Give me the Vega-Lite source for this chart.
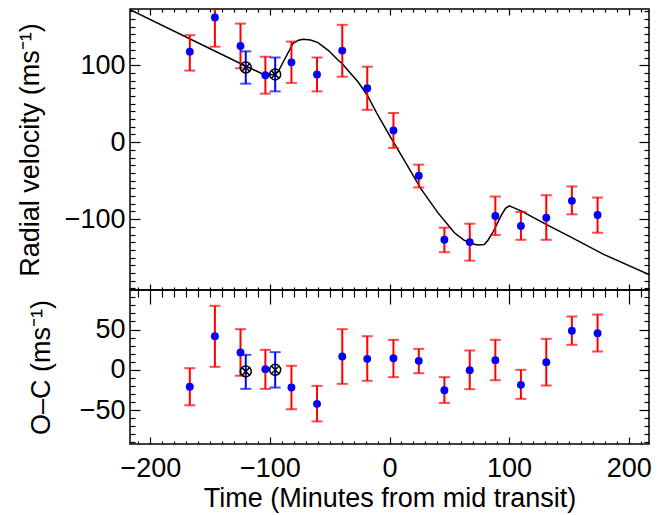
{
  "$schema": "https://vega.github.io/schema/vega-lite/v6.json",
  "background": "white",
  "padding": {"left": 15, "top": 7, "right": 16, "bottom": 5},
  "spacing": 0,
  "bounds": "flush",
  "config": {
    "font": "Liberation Sans",
    "view": {"stroke": "black", "strokeWidth": 1.5},
    "axis": {
      "grid": false, "domain": false, "tickColor": "black", "tickWidth": 1.2, "minExtent": 0,
      "labelFont": "Liberation Sans", "labelFontSize": 27, "labelColor": "black",
      "titleFont": "Liberation Sans", "titleFontSize": 27, "titleFontWeight": "normal", "titleColor": "black",
      "labelOverlap": false, "labelFlush": false, "labelBound": false
    }
  },
  "datasets": {
    "obs": [
      {"t": -167, "rv": 117.6, "rvlo": 93, "rvhi": 139, "oc": -21, "oclo": -44, "ochi": 2, "kind": "fit"},
      {"t": -146, "rv": 162, "rvlo": 124, "rvhi": 200, "oc": 41.7, "oclo": 3.7, "ochi": 79.4, "kind": "fit"},
      {"t": -124.6, "rv": 125, "rvlo": 96, "rvhi": 154, "oc": 21.5, "oclo": -7.4, "ochi": 50.4, "kind": "fit"},
      {"t": -120.2, "rv": 97, "rvlo": 76, "rvhi": 118, "oc": -2, "oclo": -23.6, "ochi": 18.6, "kind": "excl"},
      {"t": -103.8, "rv": 87, "rvlo": 63, "rvhi": 111, "oc": 0.8, "oclo": -23.6, "ochi": 24.8, "kind": "fit"},
      {"t": -95.6, "rv": 88, "rvlo": 66, "rvhi": 110, "oc": 0, "oclo": -22, "ochi": 21.9, "kind": "excl"},
      {"t": -82, "rv": 103.7, "rvlo": 77, "rvhi": 130.7, "oc": -22, "oclo": -48.9, "ochi": 5, "kind": "fit"},
      {"t": -60.6, "rv": 88, "rvlo": 66, "rvhi": 110, "oc": -42.2, "oclo": -64, "ochi": -19.9, "kind": "fit"},
      {"t": -39.5, "rv": 119, "rvlo": 85, "rvhi": 152.5, "oc": 16.5, "oclo": -17.4, "ochi": 50.4, "kind": "fit"},
      {"t": -18.6, "rv": 70.2, "rvlo": 42, "rvhi": 98, "oc": 13.6, "oclo": -13.6, "ochi": 41.7, "kind": "fit"},
      {"t": 3.3, "rv": 15.3, "rvlo": -7.4, "rvhi": 37.9, "oc": 14.4, "oclo": -9.1, "ochi": 37.2, "kind": "fit"},
      {"t": 24.5, "rv": -43.6, "rvlo": -58.8, "rvhi": -29.2, "oc": 11.1, "oclo": -4.2, "ochi": 26, "kind": "fit"},
      {"t": 45.9, "rv": -126.8, "rvlo": -142.9, "rvhi": -111, "oc": -25.3, "oclo": -41, "ochi": -9.1, "kind": "fit"},
      {"t": 67.1, "rv": -129.8, "rvlo": -153.9, "rvhi": -105.9, "oc": -0.4, "oclo": -24, "ochi": 24, "kind": "fit"},
      {"t": 88.5, "rv": -95.8, "rvlo": -120.7, "rvhi": -70.6, "oc": 12, "oclo": -12.9, "ochi": 37.2, "kind": "fit"},
      {"t": 109.9, "rv": -108.9, "rvlo": -126.8, "rvhi": -90.6, "oc": -18.6, "oclo": -36, "ochi": 0, "kind": "fit"},
      {"t": 131.1, "rv": -98, "rvlo": -126.8, "rvhi": -68.9, "oc": 9.5, "oclo": -19.5, "ochi": 38.4, "kind": "fit"},
      {"t": 152.5, "rv": -76.2, "rvlo": -93.7, "rvhi": -57.5, "oc": 48.4, "oclo": 31, "ochi": 66.1, "kind": "fit"},
      {"t": 174, "rv": -94.5, "rvlo": -117.6, "rvhi": -71.9, "oc": 45.4, "oclo": 22.7, "ochi": 68.6, "kind": "fit"}
    ],
    "model": [
      {"t": -217, "v": 172},
      {"t": -120.4, "v": 99},
      {"t": -107, "v": 89.3},
      {"t": -98, "v": 87.5},
      {"t": -93.2, "v": 91.5},
      {"t": -80.6, "v": 128.5},
      {"t": -76, "v": 132.5},
      {"t": -72.3, "v": 133.7},
      {"t": -66, "v": 132.8},
      {"t": -59.8, "v": 129.4},
      {"t": -51, "v": 119},
      {"t": -43.1, "v": 106.8},
      {"t": -39.5, "v": 102},
      {"t": -26.4, "v": 78.4},
      {"t": -18.6, "v": 61},
      {"t": -9.7, "v": 35},
      {"t": 0, "v": 9},
      {"t": 12.5, "v": -24},
      {"t": 26.5, "v": -61},
      {"t": 40.4, "v": -91.5},
      {"t": 54.3, "v": -117.6},
      {"t": 62, "v": -127},
      {"t": 68.2, "v": -131.6},
      {"t": 74, "v": -133.5},
      {"t": 79.3, "v": -133},
      {"t": 82.5, "v": -127},
      {"t": 86.3, "v": -117.6},
      {"t": 93.2, "v": -95.8},
      {"t": 97, "v": -86},
      {"t": 100.2, "v": -82.7},
      {"t": 110, "v": -89.3},
      {"t": 131, "v": -106.8},
      {"t": 151.7, "v": -123.3},
      {"t": 179.5, "v": -146},
      {"t": 217, "v": -172}
    ]
  },
  "vconcat": [
    {
      "width": 519,
      "height": 281,
      "resolve": {"axis": {"x": "independent", "y": "independent"}},
      "layer": [
        {
          "data": {"name": "model"},
          "mark": {"type": "line", "color": "black", "strokeWidth": 1.5, "clip": true},
          "encoding": {
            "x": {"field": "t", "type": "quantitative", "scale": {"domain": [-217, 217], "nice": false, "zero": false},
              "axis": {"orient": "bottom", "labels": false, "title": null, "maxExtent": 0,
                "values": [-210,-200,-190,-180,-170,-160,-150,-140,-130,-120,-110,-100,-90,-80,-70,-60,-50,-40,-30,-20,-10,0,10,20,30,40,50,60,70,80,90,100,110,120,130,140,150,160,170,180,190,200,210],
                "tickSize": {"condition": {"test": "datum.value % 100 === 0", "value": -6}, "value": -3}}},
            "y": {"field": "v", "type": "quantitative", "scale": {"domain": [-192, 173], "nice": false, "zero": false},
              "axis": {"orient": "left", "title": "Radial velocity (ms⁻¹)", "titlePadding": 20, "labelPadding": 15,
                "values": [-190,-180,-170,-160,-150,-140,-130,-120,-110,-100,-90,-80,-70,-60,-50,-40,-30,-20,-10,0,10,20,30,40,50,60,70,80,90,100,110,120,130,140,150,160,170],
                "labelExpr": "datum.value % 100 === 0 ? datum.label : ''",
                "labelFontSize": {"condition": {"test": "datum.value % 100 !== 0", "value": 0}, "value": 27},
                "tickSize": {"condition": {"test": "datum.value % 100 === 0", "value": -10}, "value": -5}}}
          }
        },
        {
          "data": {"name": "obs"},
          "mark": {"type": "rule", "strokeWidth": 2, "clip": true},
          "encoding": {
            "x": {"field": "t", "type": "quantitative", "scale": {"domain": [-217, 217], "nice": false, "zero": false},
              "axis": {"orient": "top", "labels": false, "title": null, "maxExtent": 0,
                "values": [-210,-200,-190,-180,-170,-160,-150,-140,-130,-120,-110,-100,-90,-80,-70,-60,-50,-40,-30,-20,-10,0,10,20,30,40,50,60,70,80,90,100,110,120,130,140,150,160,170,180,190,200,210],
                "tickSize": {"condition": {"test": "datum.value % 100 === 0", "value": -6}, "value": -3}}},
            "y": {"field": "rvlo", "type": "quantitative", "scale": {"domain": [-192, 173], "nice": false, "zero": false},
              "axis": {"orient": "right", "labels": false, "title": null, "maxExtent": 0,
                "values": [-190,-180,-170,-160,-150,-140,-130,-120,-110,-100,-90,-80,-70,-60,-50,-40,-30,-20,-10,0,10,20,30,40,50,60,70,80,90,100,110,120,130,140,150,160,170],
                "tickSize": {"condition": {"test": "datum.value % 100 === 0", "value": -10}, "value": -5}}},
            "y2": {"field": "rvhi"},
            "color": {"field": "kind", "type": "nominal", "scale": {"domain": ["fit", "excl"], "range": ["#ff0000", "#0000ff"]}, "legend": null}
          }
        },
        {
          "data": {"name": "obs"},
          "mark": {"type": "tick", "orient": "horizontal", "size": 11, "thickness": 2, "clip": true},
          "encoding": {
            "x": {"field": "t", "type": "quantitative", "scale": {"domain": [-217, 217], "nice": false, "zero": false}, "axis": null},
            "y": {"field": "rvlo", "type": "quantitative", "scale": {"domain": [-192, 173], "nice": false, "zero": false}, "axis": null},
            "color": {"field": "kind", "type": "nominal", "scale": {"domain": ["fit", "excl"], "range": ["#ff0000", "#0000ff"]}, "legend": null}
          }
        },
        {
          "data": {"name": "obs"},
          "mark": {"type": "tick", "orient": "horizontal", "size": 11, "thickness": 2, "clip": true},
          "encoding": {
            "x": {"field": "t", "type": "quantitative", "scale": {"domain": [-217, 217], "nice": false, "zero": false}, "axis": null},
            "y": {"field": "rvhi", "type": "quantitative", "scale": {"domain": [-192, 173], "nice": false, "zero": false}, "axis": null},
            "color": {"field": "kind", "type": "nominal", "scale": {"domain": ["fit", "excl"], "range": ["#ff0000", "#0000ff"]}, "legend": null}
          }
        },
        {
          "data": {"name": "obs"},
          "transform": [{"filter": {"field": "kind", "equal": "fit"}}],
          "mark": {"type": "circle", "size": 62, "color": "#0000ff", "opacity": 1, "clip": true},
          "encoding": {
            "x": {"field": "t", "type": "quantitative", "scale": {"domain": [-217, 217], "nice": false, "zero": false}, "axis": null},
            "y": {"field": "rv", "type": "quantitative", "scale": {"domain": [-192, 173], "nice": false, "zero": false}, "axis": null}
          }
        },
        {
          "data": {"name": "obs"},
          "transform": [{"filter": {"field": "kind", "equal": "excl"}}],
          "mark": {"type": "point", "shape": "circle", "size": 120, "filled": false, "color": "black", "strokeWidth": 1.5, "opacity": 1},
          "encoding": {
            "x": {"field": "t", "type": "quantitative", "scale": {"domain": [-217, 217], "nice": false, "zero": false}, "axis": null},
            "y": {"field": "rv", "type": "quantitative", "scale": {"domain": [-192, 173], "nice": false, "zero": false}, "axis": null}
          }
        },
        {
          "data": {"name": "obs"},
          "transform": [{"filter": {"field": "kind", "equal": "excl"}}],
          "mark": {"type": "point", "shape": "M-0.7,-0.7L0.7,0.7M-0.7,0.7L0.7,-0.7", "size": 120, "filled": false, "color": "black", "strokeWidth": 1.5, "opacity": 1},
          "encoding": {
            "x": {"field": "t", "type": "quantitative", "scale": {"domain": [-217, 217], "nice": false, "zero": false}, "axis": null},
            "y": {"field": "rv", "type": "quantitative", "scale": {"domain": [-192, 173], "nice": false, "zero": false}, "axis": null}
          }
        }
      ]
    },
    {
      "width": 519,
      "height": 154,
      "resolve": {"axis": {"x": "independent", "y": "independent"}},
      "layer": [
        {
          "mark": {"type": "rule", "color": "#ff0000", "strokeWidth": 1.5},
          "encoding": {
            "y": {"datum": 0, "type": "quantitative", "scale": {"domain": [-92, 99], "nice": false, "zero": false}, "axis": null}
          }
        },
        {
          "data": {"name": "obs"},
          "mark": {"type": "rule", "strokeWidth": 2, "clip": true},
          "encoding": {
            "x": {"field": "t", "type": "quantitative", "scale": {"domain": [-217, 217], "nice": false, "zero": false},
              "axis": {"orient": "bottom", "title": "Time (Minutes from mid transit)", "titlePadding": 4, "labelPadding": 18,
                "values": [-210,-200,-190,-180,-170,-160,-150,-140,-130,-120,-110,-100,-90,-80,-70,-60,-50,-40,-30,-20,-10,0,10,20,30,40,50,60,70,80,90,100,110,120,130,140,150,160,170,180,190,200,210],
                "labelExpr": "datum.value % 100 === 0 ? datum.label : ''",
                "labelFontSize": {"condition": {"test": "datum.value % 100 !== 0", "value": 0}, "value": 27},
                "tickSize": {"condition": {"test": "datum.value % 100 === 0", "value": -7}, "value": -3}}},
            "y": {"field": "oclo", "type": "quantitative", "scale": {"domain": [-92, 99], "nice": false, "zero": false},
              "axis": {"orient": "left", "title": "O–C (ms⁻¹)", "titlePadding": 24, "labelPadding": 15,
                "values": [-90,-80,-70,-60,-50,-40,-30,-20,-10,0,10,20,30,40,50,60,70,80,90],
                "labelExpr": "datum.value % 50 === 0 ? datum.label : ''",
                "labelFontSize": {"condition": {"test": "datum.value % 50 !== 0", "value": 0}, "value": 27},
                "tickSize": {"condition": {"test": "datum.value % 50 === 0", "value": -10}, "value": -5}}},
            "y2": {"field": "ochi"},
            "color": {"field": "kind", "type": "nominal", "scale": {"domain": ["fit", "excl"], "range": ["#ff0000", "#0000ff"]}, "legend": null}
          }
        },
        {
          "data": {"name": "obs"},
          "mark": {"type": "tick", "orient": "horizontal", "size": 11, "thickness": 2, "clip": true},
          "encoding": {
            "x": {"field": "t", "type": "quantitative", "scale": {"domain": [-217, 217], "nice": false, "zero": false},
              "axis": {"orient": "top", "labels": false, "title": null, "maxExtent": 0,
                "values": [-210,-200,-190,-180,-170,-160,-150,-140,-130,-120,-110,-100,-90,-80,-70,-60,-50,-40,-30,-20,-10,0,10,20,30,40,50,60,70,80,90,100,110,120,130,140,150,160,170,180,190,200,210],
                "tickSize": {"condition": {"test": "datum.value % 100 === 0", "value": -14}, "value": -7}}},
            "y": {"field": "oclo", "type": "quantitative", "scale": {"domain": [-92, 99], "nice": false, "zero": false},
              "axis": {"orient": "right", "labels": false, "title": null, "maxExtent": 0,
                "values": [-90,-80,-70,-60,-50,-40,-30,-20,-10,0,10,20,30,40,50,60,70,80,90],
                "tickSize": {"condition": {"test": "datum.value % 50 === 0", "value": -10}, "value": -5}}},
            "color": {"field": "kind", "type": "nominal", "scale": {"domain": ["fit", "excl"], "range": ["#ff0000", "#0000ff"]}, "legend": null}
          }
        },
        {
          "data": {"name": "obs"},
          "mark": {"type": "tick", "orient": "horizontal", "size": 11, "thickness": 2, "clip": true},
          "encoding": {
            "x": {"field": "t", "type": "quantitative", "scale": {"domain": [-217, 217], "nice": false, "zero": false}, "axis": null},
            "y": {"field": "ochi", "type": "quantitative", "scale": {"domain": [-92, 99], "nice": false, "zero": false}, "axis": null},
            "color": {"field": "kind", "type": "nominal", "scale": {"domain": ["fit", "excl"], "range": ["#ff0000", "#0000ff"]}, "legend": null}
          }
        },
        {
          "data": {"name": "obs"},
          "transform": [{"filter": {"field": "kind", "equal": "fit"}}],
          "mark": {"type": "circle", "size": 62, "color": "#0000ff", "opacity": 1, "clip": true},
          "encoding": {
            "x": {"field": "t", "type": "quantitative", "scale": {"domain": [-217, 217], "nice": false, "zero": false}, "axis": null},
            "y": {"field": "oc", "type": "quantitative", "scale": {"domain": [-92, 99], "nice": false, "zero": false}, "axis": null}
          }
        },
        {
          "data": {"name": "obs"},
          "transform": [{"filter": {"field": "kind", "equal": "excl"}}],
          "mark": {"type": "point", "shape": "circle", "size": 120, "filled": false, "color": "black", "strokeWidth": 1.5, "opacity": 1},
          "encoding": {
            "x": {"field": "t", "type": "quantitative", "scale": {"domain": [-217, 217], "nice": false, "zero": false}, "axis": null},
            "y": {"field": "oc", "type": "quantitative", "scale": {"domain": [-92, 99], "nice": false, "zero": false}, "axis": null}
          }
        },
        {
          "data": {"name": "obs"},
          "transform": [{"filter": {"field": "kind", "equal": "excl"}}],
          "mark": {"type": "point", "shape": "M-0.7,-0.7L0.7,0.7M-0.7,0.7L0.7,-0.7", "size": 120, "filled": false, "color": "black", "strokeWidth": 1.5, "opacity": 1},
          "encoding": {
            "x": {"field": "t", "type": "quantitative", "scale": {"domain": [-217, 217], "nice": false, "zero": false}, "axis": null},
            "y": {"field": "oc", "type": "quantitative", "scale": {"domain": [-92, 99], "nice": false, "zero": false}, "axis": null}
          }
        }
      ]
    }
  ]
}
